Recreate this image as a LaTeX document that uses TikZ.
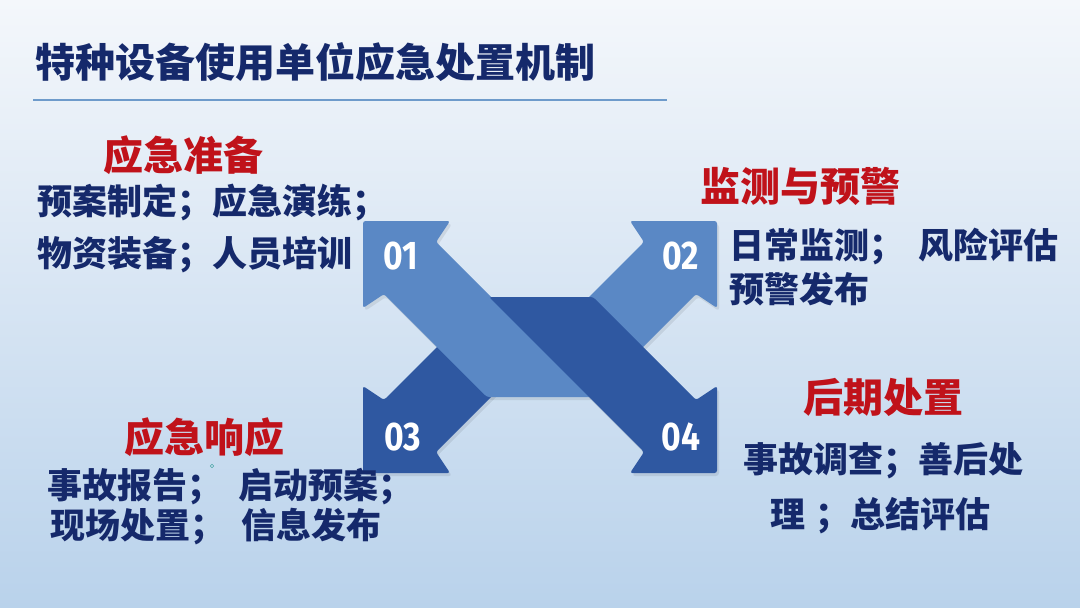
\documentclass[tikz,border=0pt]{standalone}
\usepackage{fontspec}
\newfontfamily\cjk{Noto Sans CJK SC}
\newfontfamily\numf{Fira Sans}[FakeStretch=0.84]
\definecolor{bgtop}{HTML}{F4F7FB}
\definecolor{bgmid}{HTML}{D8E6F3}
\definecolor{bgbot}{HTML}{B9D2EB}
\definecolor{lightarr}{HTML}{5A88C5}
\definecolor{darkarr}{HTML}{2F58A1}
\definecolor{navy}{HTML}{15296B}
\definecolor{redhead}{HTML}{C0121A}
\definecolor{ruleblue}{HTML}{6E9BCB}
\tikzset{
  titletext/.style={anchor=west, inner sep=0pt, font=\cjk\bfseries\fontsize{40}{44}\selectfont, text=navy},
  headtext/.style={anchor=west, inner sep=0pt, font=\cjk\bfseries\fontsize{40}{44}\selectfont, text=redhead},
  bodytext/.style={anchor=west, inner sep=0pt, font=\cjk\bfseries\fontsize{35}{40}\selectfont, text=navy},
  numtext/.style={inner sep=0pt, font=\numf\bfseries\fontsize{40}{44}\selectfont, text=white},
  arrlight/.style={fill=lightarr, rounded corners=2.5pt},
  arrdark/.style={fill=darkarr, rounded corners=2.5pt},
  shadowsty/.style={fill=black, opacity=0.08, rounded corners=3pt, shift={(2,3)}},
}
\begin{document}
\begin{tikzpicture}[x=1pt, y=-1pt]
\useasboundingbox (0,0) rectangle (1080,608);
% background
\shade[top color=bgtop, middle color=bgmid, bottom color=bgbot] (0,0) rectangle (1080,608);

% title and rule
\node[titletext] (title) at (35,62) {特种设备使用单位应急处置机制};
\coordinate (ruleL) at (33,100);
\coordinate (ruleR) at (667,100);
\draw[ruleblue, line width=2.5pt] (ruleL) -- (ruleR);

% shadows
\fill[shadowsty] (717,221) -- (630,221) -- (644,242) -- (529,357) -- (633,357) -- (696,294) -- (717,308) -- cycle;
\fill[shadowsty] (363,473) -- (450,473) -- (436,452) -- (551,337) -- (447,337) -- (384,400) -- (363,386) -- cycle;
\fill[shadowsty] (363,221) -- (450,221) -- (436,242) -- (591,397) -- (487,397) -- (384,294) -- (363,308) -- cycle;
\fill[shadowsty] (717,473) -- (630,473) -- (644,452) -- (489,297) -- (593,297) -- (696,400) -- (717,386) -- cycle;

% arrow 02 (light, up-right)
\fill[arrlight] (717,221) -- (630,221) -- (644,242) -- (529,357) -- (633,357) -- (696,294) -- (717,308) -- cycle;
% arrow 03 (dark, down-left)
\fill[arrdark] (363,473) -- (450,473) -- (436,452) -- (551,337) -- (447,337) -- (384,400) -- (363,386) -- cycle;
% arrow 01 (light, up-left)
\fill[arrlight] (363,221) -- (450,221) -- (436,242) -- (591,397) -- (487,397) -- (384,294) -- (363,308) -- cycle;
% arrow 04 (dark, down-right)
\fill[arrdark] (717,473) -- (630,473) -- (644,452) -- (489,297) -- (593,297) -- (696,400) -- (717,386) -- cycle;

% numbers
\node[numtext] (n1) at (401,256) {01};
\node[numtext] (n2) at (681,256) {02};
\node[numtext] (n3) at (403,437) {03};
\node[numtext] (n4) at (681,437) {04};

% block 1
\node[headtext] (h1) at (103,155) {应急准备};
\node[bodytext] (b1a) at (37,203) {预案制定；应急演练；};
\node[bodytext] (b1b) at (37,255) {物资装备；人员培训};

% block 2
\node[headtext] (h2) at (700,186) {监测与预警};
\node[bodytext] (b2a) at (729,247) {日常监测；\hspace{14pt}风险评估};
\node[bodytext] (b2b) at (729,289) {预警发布};

% block 3
\node[headtext] (h3) at (124,437) {应急响应};
\node[bodytext] (b3a) at (47,487) {事故报告；\hspace{16pt}启动预案；};
\node[bodytext] (b3b) at (50,527) {现场处置；\hspace{16pt}信息发布};
\draw[teal!70, line width=0.6pt] (212,466) circle (1.8);

% block 4
\node[headtext] (h4) at (803,397) {后期处置};
\node[bodytext] (b4a) at (743,461) {事故调查；善后处};
\node[bodytext] (b4b) at (770,516) {理\hspace{10pt}；总结评估};
\end{tikzpicture}
\end{document}
